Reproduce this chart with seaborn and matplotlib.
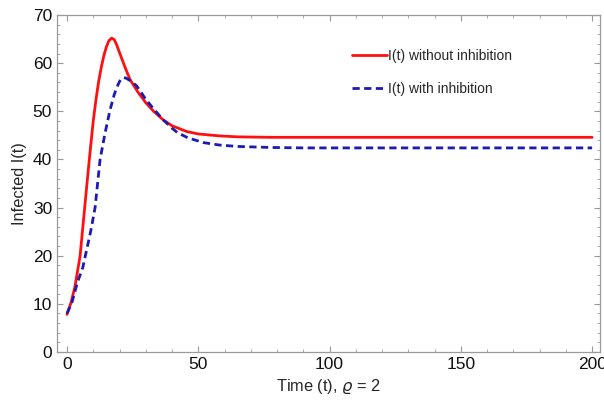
import matplotlib
matplotlib.use("Agg")
import matplotlib.pyplot as plt
import pandas as pd
import seaborn as sns
from matplotlib.ticker import MultipleLocator

# values
t_without = [0, 1.5, 3, 5, 7, 8.5, 10, 11, 12, 13, 14, 15, 16, 17, 18, 19, 20, 22, 24,
             27, 30, 33, 36.7, 40, 45.6, 50, 58, 65, 77, 100, 150, 200]
i_without = [7.8, 10.2, 13.5, 20, 31.5, 40, 48, 52.3, 56, 59, 61.5, 63.4, 64.7, 65.2,
             64.9, 63.7, 62.2, 59.3, 56.6, 54, 51.8, 50.0, 48.2, 47.0, 45.8, 45.3, 44.9,
             44.7, 44.6, 44.6, 44.6, 44.6]

t_with = [0, 2, 4, 6, 7, 9, 10.7, 12.6, 14.5, 16.4, 18, 19, 20, 21, 21.7, 22.5, 24,
          26.5, 30, 33, 36.7, 40, 42, 46, 52, 58, 65, 77, 90, 100, 150, 200]
i_with = [8, 10.5, 14.5, 17.5, 20, 25, 30, 40, 45.5, 50.3, 53.5, 55, 56.2, 56.9, 57,
          56.9, 56.4, 55.3, 52.5, 50.5, 48.2, 46.5, 45.6, 44.5, 43.5, 43, 42.7, 42.5,
          42.4, 42.4, 42.4, 42.4]

labels = ["I(t) without inhibition", "I(t) with inhibition"]

df = pd.concat([
    pd.DataFrame({"t": t_without, "I": i_without, "case": labels[0]}),
    pd.DataFrame({"t": t_with, "I": i_with, "case": labels[1]}),
], ignore_index=True)

sns.set_theme(style="ticks")
plt.rcParams["font.family"] = ["Liberation Sans", "DejaVu Sans"]

fig = plt.figure(figsize=(6.04, 4.03), dpi=100)
ax = fig.add_axes([0.0944, 0.1266, 0.899, 0.836])

sns.lineplot(data=df[df["case"] == labels[0]], x="t", y="I", ax=ax,
             color="#ff1010", linewidth=2.0, label=labels[0], sort=False)
sns.lineplot(data=df[df["case"] == labels[1]], x="t", y="I", ax=ax,
             color="#1a1ab4", linewidth=2.0, linestyle=(0, (2.6, 1.6)),
             label=labels[1], sort=False)

ax.set_xlim(-3.8, 203)
ax.set_ylim(0, 70)
ax.xaxis.set_major_locator(MultipleLocator(50))
ax.xaxis.set_minor_locator(MultipleLocator(10))
ax.yaxis.set_major_locator(MultipleLocator(10))
ax.yaxis.set_minor_locator(MultipleLocator(2))
ax.tick_params(which="both", direction="in", top=True, right=True,
               color="#9a9a9a", labelsize=12.5, labelcolor="#111111")
ax.tick_params(which="major", length=4.5, width=0.8)
ax.tick_params(which="minor", length=2.5, width=0.6)
for side in ax.spines.values():
    side.set_color("#9a9a9a")
    side.set_linewidth(0.9)

ax.set_xlabel(r"Time (t), $\varrho$ = 2", fontsize=11.8, labelpad=4)
ax.set_ylabel("Infected I(t)", fontsize=11.8, labelpad=4)

ax.legend(loc="upper left", bbox_to_anchor=(0.521, 0.936), frameon=False,
          fontsize=10, handlelength=2.5, handletextpad=0.05, labelspacing=1.37)

fig.savefig("out.png", dpi=100)
